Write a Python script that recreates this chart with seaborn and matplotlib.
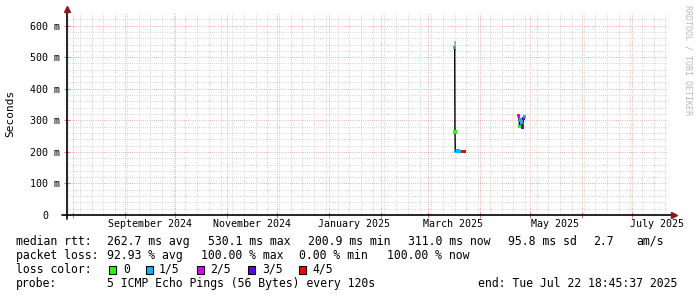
import numpy as np
import pandas as pd
import matplotlib
matplotlib.use("Agg")
import matplotlib.pyplot as plt
import matplotlib.dates as mdates
import matplotlib.transforms as mtransforms
from matplotlib.patches import Rectangle
import seaborn as sns

# ---------------- data ----------------
times_mar = ["2025-03-17 00:00", "2025-03-17 04:00", "2025-03-17 09:00", "2025-03-18 04:00",
             "2025-03-19 00:00", "2025-03-19 20:00", "2025-03-20 16:00", "2025-03-21 12:00",
             "2025-03-22 08:00", "2025-03-23 00:00"]
median_mar = [530.1, 263.0, 201.5, 205.5, 203.0, 201.5, 202.0, 200.9, 202.0, 201.0]
loss_mar = ["1/5", "0", "1/5", "3/5", "1/5", "1/5", "1/5", "4/5", "4/5", "4/5"]
smoke_hi_mar = [550.0, 270.0, 204.0, 208.0, 205.0, 204.0, 204.0, 203.0, 204.0, 203.0]
smoke_lo_mar = [520.0, 258.0, 200.0, 203.0, 201.0, 200.0, 200.0, 200.0, 200.0, 200.0]

times_apr = ["2025-04-24 06:00", "2025-04-24 20:00", "2025-04-25 10:00", "2025-04-26 00:00",
             "2025-04-26 14:00", "2025-04-27 04:00", "2025-04-27 18:00"]
median_apr = [316.0, 281.0, 301.0, 293.0, 279.0, 305.0, 311.0]
loss_apr = ["2/5", "0", "1/5", "1/5", "3/5", "3/5", "1/5"]
smoke_hi_apr = [320.0, 285.0, 304.0, 296.0, 283.0, 308.0, 314.0]
smoke_lo_apr = [312.0, 278.0, 298.0, 290.0, 276.0, 302.0, 308.0]

loss_labels = ["0", "1/5", "2/5", "3/5", "4/5"]
loss_colors = ["#26ff00", "#00b8ff", "#dd00ff", "#5e00ff", "#ff0000"]

y_ticks = [0, 100, 200, 300, 400, 500, 600]
y_tick_labels = ["0", "100 m", "200 m", "300 m", "400 m", "500 m", "600 m"]
x_label_dates = ["2024-09-16", "2024-11-16", "2025-01-16", "2025-03-16", "2025-05-16", "2025-07-16"]
x_labels = ["September 2024", "November 2024", "January 2025", "March 2025", "May 2025", "July 2025"]

legend_rows = [
    [(16, "median rtt:"), (106.7, "262.7 ms avg"), (207.6, "530.1 ms max"), (307.6, "200.9 ms min"),
     (407.6, "311.0 ms now"), (508, "95.8 ms sd"), (593, "2.7"), (636, "am/s")],
    [(16, "packet loss:"), (106.7, "92.93 % avg"), (201, "100.00 % max"), (299, "0.00 % min"),
     (386.7, "100.00 % now")],
    [(16, "loss color:")],
    [(16, "probe:"), (106.7, "5 ICMP Echo Pings (56 Bytes) every 120s"),
     (478, "end: Tue Jul 22 18:45:37 2025")],
]

# ---------------- build frames ----------------
df1 = pd.DataFrame({"time": pd.to_datetime(times_mar), "median": median_mar, "loss": loss_mar,
                    "hi": smoke_hi_mar, "lo": smoke_lo_mar, "seg": "mar"})
df2 = pd.DataFrame({"time": pd.to_datetime(times_apr), "median": median_apr, "loss": loss_apr,
                    "hi": smoke_hi_apr, "lo": smoke_lo_apr, "seg": "apr"})
df = pd.concat([df1, df2], ignore_index=True)

sns.set_theme(style="white")
plt.rcParams["font.family"] = ["DejaVu Sans Mono", "DejaVu Sans"]

W, H = 697, 297
fig = plt.figure(figsize=(W / 100, H / 100), dpi=100)
fig.patch.set_facecolor("white")
L, R, T, B = 67, 667, 13, 215
ax = fig.add_axes([L / W, (H - B) / H, (R - L) / W, (B - T) / H])
ax.set_facecolor("white")

# smoke
ax.vlines(df["time"], df["lo"], df["hi"], color="#a0a0a0", linewidth=1.2, zorder=2)
# median line (black)
sns.lineplot(data=df, x="time", y="median", units="seg", estimator=None, color="black",
             linewidth=1.0, ax=ax, zorder=3, legend=False, sort=False)
# loss-coloured median markers
palette = dict(zip(loss_labels, loss_colors))
sns.scatterplot(data=df, x="time", y="median", hue="loss", palette=palette, marker="s",
                s=5.5, linewidth=0, ax=ax, zorder=4, legend=False)

# limits
ax.set_xlim(pd.Timestamp("2024-07-28 05:30"), pd.Timestamp("2025-07-21 22:00"))
ax.set_ylim(0, 640)

# grid
ax.xaxis.set_major_locator(mdates.MonthLocator(bymonthday=1))
ax.xaxis.set_minor_locator(mdates.WeekdayLocator(byweekday=mdates.MO))
ax.xaxis.set_major_formatter(plt.NullFormatter())
ax.set_yticks(y_ticks)
ax.set_yticks(np.arange(0, 640, 20), minor=True)
ax.set_yticklabels(y_tick_labels, fontsize=7.2)
for lab in ax.get_yticklabels():
    lab.set_horizontalalignment("center")
ax.tick_params(axis="y", which="major", pad=13.5, length=4, direction="inout", width=0.8,
               color="#e08080", labelcolor="black")
ax.tick_params(axis="y", which="minor", length=3, direction="inout", width=0.8, color="#b0b0b0")
ax.tick_params(axis="x", which="major", length=4, direction="inout", width=0.8, color="#e08080")
ax.tick_params(axis="x", which="minor", length=3, direction="inout", width=0.8, color="#c0c0c0")
ax.tick_params(left=True, bottom=True)

ax.grid(which="minor", color="#c8c8c8", linestyle=(0, (0.72, 1.44)), linewidth=0.72, zorder=0)
ax.grid(which="major", color="#f09a9a", linestyle=(0, (0.72, 1.44)), linewidth=0.72, zorder=1)
ax.set_axisbelow(True)
for s in ax.spines.values():
    s.set_visible(False)
ax.set_xlabel("")
ax.set_ylabel("")

# axis lines with arrows
ax.plot([-0.008, 1.008], [0, 0], transform=ax.transAxes, color="black", lw=1.2, clip_on=False, zorder=6)
ax.plot([0, 0], [-0.02, 1.01], transform=ax.transAxes, color="black", lw=1.2, clip_on=False, zorder=6)
ax.plot([1.012], [0], marker=">", markersize=4.5, color="#8b1a1a", transform=ax.transAxes, clip_on=False, zorder=7)
ax.plot([0], [1.02], marker="^", markersize=4.5, color="#8b1a1a", transform=ax.transAxes, clip_on=False, zorder=7)

# x labels at mid-month
trans = mtransforms.blended_transform_factory(ax.transData, ax.transAxes)
for d, t in zip(x_label_dates, x_labels):
    ax.text(mdates.date2num(pd.Timestamp(d)), -0.045, t, transform=trans, ha="center", va="center",
            fontsize=7.2, color="black")

# y axis label
fig.text(10.5 / W, 1 - 113 / H, "Seconds", rotation=90, ha="center", va="center", fontsize=8, color="black")

# watermark
fig.text(688 / W, 1 - 60 / H, "RRDTOOL / TOBI OETIKER", rotation=270, ha="center", va="center",
         fontsize=6.0, color="#b8b8b8")

# legend lines
row_y = [241.5, 255.5, 269.5, 283.5]
for ry, row in zip(row_y, legend_rows):
    for x, txt in row:
        fig.text(x / W, 1 - ry / H, txt, ha="left", va="center", fontsize=8.3, color="black")

box_x = [109, 146, 197, 247.6, 298.7]
lab_x = [123, 159, 210, 262, 312.4]
for bx, lx, lab, col in zip(box_x, lab_x, loss_labels, loss_colors):
    fig.patches.append(Rectangle((bx / W, 1 - 273.5 / H), 7 / W, 8 / H, transform=fig.transFigure,
                                 facecolor=col, edgecolor="black", linewidth=0.8))
    fig.text(lx / W, 1 - 269.5 / H, lab, ha="left", va="center", fontsize=8.3, color="black")

fig.savefig("out.png", dpi=100, facecolor="white")
